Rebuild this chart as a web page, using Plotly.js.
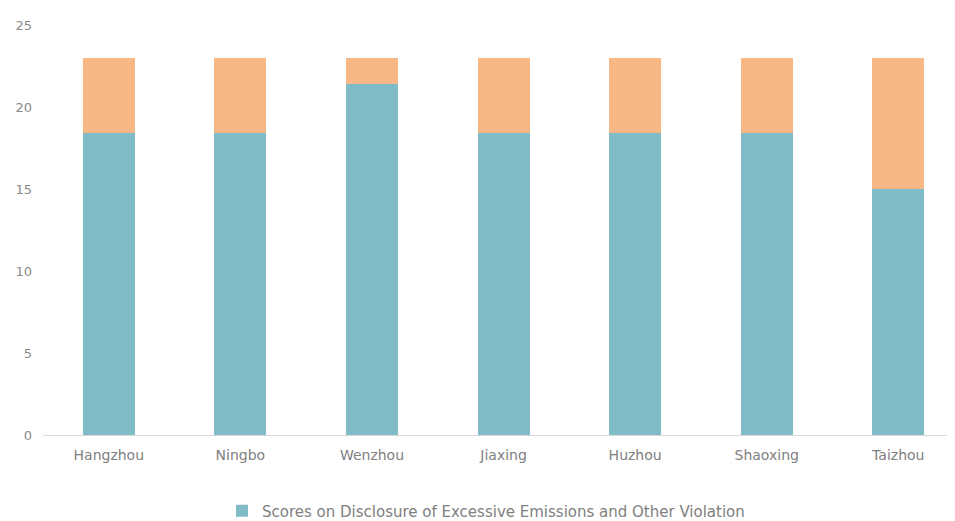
<!DOCTYPE html>
<html><head><meta charset="utf-8">
<script src="https://cdn.plot.ly/plotly-3.0.1.min.js"></script>
<style>html,body{margin:0;padding:0;background:#fff}#c{width:955px;height:521px}</style>
</head><body><div id="c"></div>
<script>
const cities = ["Hangzhou","Ningbo","Wenzhou","Jiaxing","Huzhou","Shaoxing","Taizhou"];
const disclosureScores = [18.4,18.4,21.4,18.4,18.4,18.4,15];
const remainingScores = [4.6,4.6,1.6,4.6,4.6,4.6,8];
const seriesName = "Scores on Disclosure of Excessive Emissions and Other Violation";
const yTicks = [0,5,10,15,20,25];

const fam = "'DejaVu Sans ExtraLight', 'DejaVu Sans', sans-serif";
const traces = [
  {type:"bar", x:cities, y:disclosureScores, name:seriesName, marker:{color:"#80bcc8"}, width:0.395, hoverinfo:"y"},
  {type:"bar", x:cities, y:remainingScores, name:"", showlegend:false, marker:{color:"#f7b886"}, width:0.395, hoverinfo:"y"}
];
const layout = {
  width:955, height:521, barmode:"stack",
  margin:{l:43, r:8, t:25, b:86},
  paper_bgcolor:"#fff", plot_bgcolor:"#fff",
  font:{family:fam, color:"#8a8a8a", size:13},
  xaxis:{type:"category", range:[-0.5,6.37], automargin:false, showgrid:false, showline:false, zeroline:false, ticks:"", ticklabelstandoff:10, tickfont:{family:fam, size:14,color:"#808080"}},
  yaxis:{range:[0,25], automargin:false, tickvals:yTicks, showgrid:false, zeroline:true, zerolinecolor:"#d9d9d9", zerolinewidth:1, showline:false, ticks:"", tickfont:{family:fam, size:13,color:"#8a8a8a"}, ticklabelstandoff:10},
  showlegend:true,
  legend:{orientation:"h", x:0.49, xanchor:"center", yref:"container", y:0.019, yanchor:"middle", itemwidth:30, font:{family:fam, size:15,color:"#808080"}}
};
Plotly.newPlot("c", traces, layout, {displayModeBar:false});
</script></body></html>
